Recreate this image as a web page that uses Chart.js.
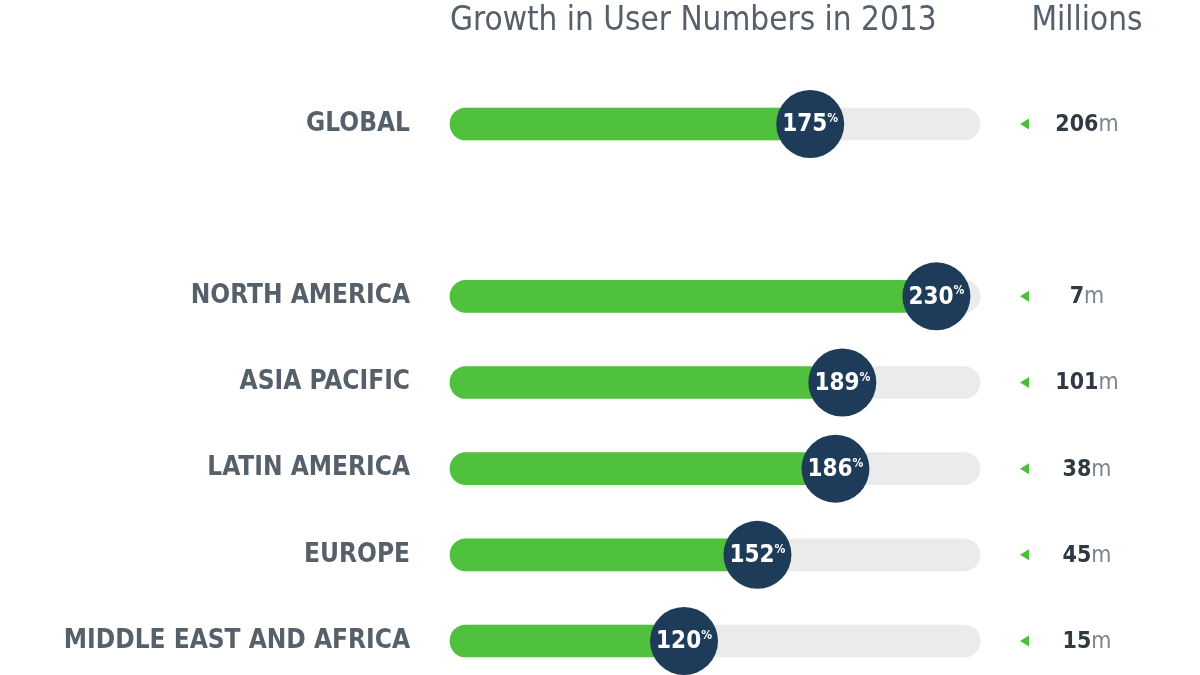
<!DOCTYPE html>
<html>
<head>
<meta charset="utf-8">
<script src="https://cdn.jsdelivr.net/npm/chart.js@4/dist/chart.umd.min.js"></script>
<style>
html, body { margin: 0; padding: 0; background: #fff; }
#wrap { width: 1200px; height: 675px; position: relative; }
</style>
</head>
<body>
<div id="wrap"><canvas id="myChart" width="1200" height="675"></canvas></div>
<script>
// rows (the empty one is the gap under GLOBAL)
const regions = ['GLOBAL', '', 'NORTH AMERICA', 'ASIA PACIFIC', 'LATIN AMERICA', 'EUROPE', 'MIDDLE EAST AND AFRICA'];
const growth = [175, null, 230, 189, 186, 152, 120];
const users = [206, null, 7, 101, 38, 45, 15];
const scaleMin = 18;
const scaleMax = 249;
const chartTitle = 'Growth in User Numbers in 2013';
const usersTitle = 'Millions';

const FONT = '"DejaVu Sans Condensed", "Liberation Sans Narrow", "Open Sans", sans-serif';

const track = regions.map(r => r ? scaleMax : null);
const dots = growth.map((g, i) => g == null ? null : {x: g, y: regions[i]}).filter(d => d);

const labelPlugin = {
    id: 'labels',
    afterDatasetsDraw(chart) {
        let ctx = chart.ctx;
        let meta = chart.getDatasetMeta(2);
        ctx.save();
        ctx.textBaseline = 'middle';

        ctx.fillStyle = '#56606a';
        ctx.font = '33px ' + FONT;
        ctx.textAlign = 'left';
        ctx.fillText(chartTitle, chart.chartArea.left, 21);
        ctx.textAlign = 'center';
        ctx.fillText(usersTitle, 1087, 21);

        let k = 0;
        for (let i = 0; i < regions.length; i++) {
            if (growth[i] == null) continue;
            let pt = meta.data[k++];
            if (!pt) continue;
            // value inside the circle
            let num = String(growth[i]);
            ctx.font = 'bold 24px ' + FONT;
            let w1 = ctx.measureText(num).width;
            ctx.font = 'bold 12px ' + FONT;
            let w2 = ctx.measureText('%').width;
            let sx = pt.x - (w1 + w2) / 2;
            ctx.textAlign = 'left';
            ctx.fillStyle = '#ffffff';
            ctx.font = 'bold 24px ' + FONT;
            ctx.fillText(num, sx, pt.y + 1);
            ctx.font = 'bold 12px ' + FONT;
            ctx.fillText('%', sx + w1, pt.y - 5);

            // little green arrow
            let ax = 1020;
            ctx.fillStyle = '#4cbf3a';
            ctx.beginPath();
            ctx.moveTo(ax, pt.y);
            ctx.lineTo(ax + 9, pt.y - 5.5);
            ctx.lineTo(ax + 9, pt.y + 5.5);
            ctx.closePath();
            ctx.fill();

            // users in millions
            let u = String(users[i]);
            ctx.font = 'bold 23px ' + FONT;
            let u1 = ctx.measureText(u).width;
            ctx.font = '23px ' + FONT;
            let u2 = ctx.measureText('m').width;
            let ux = 1087 - (u1 + u2) / 2;
            ctx.fillStyle = '#2f3a44';
            ctx.font = 'bold 23px ' + FONT;
            ctx.fillText(u, ux, pt.y + 1);
            ctx.fillStyle = '#7c858d';
            ctx.font = '23px ' + FONT;
            ctx.fillText('m', ux + u1, pt.y + 1);
        }
        ctx.restore();
    }
};

new Chart('myChart', {
    type: 'bar',
    data: {
        labels: regions,
        datasets: [{
            data: track,
            base: scaleMin,
            backgroundColor: '#ebebeb',
            borderRadius: 16,
            borderSkipped: false,
            barThickness: 32,
            grouped: false,
            order: 3,
            clip: false
        }, {
            data: growth,
            base: scaleMin,
            backgroundColor: '#50c13d',
            borderRadius: 16,
            borderSkipped: false,
            barThickness: 32,
            grouped: false,
            order: 2,
            clip: false
        }, {
            type: 'scatter',
            indexAxis: 'x',
            data: dots,
            pointRadius: 34,
            pointHoverRadius: 34,
            pointBackgroundColor: '#1e3c59',
            pointBorderWidth: 0,
            order: 1,
            clip: false
        }]
    },
    options: {
        indexAxis: 'y',
        responsive: false,
        animation: false,
        layout: {autoPadding: false, padding: {top: 124, bottom: 34, right: 220, left: 0}},
        plugins: {
            legend: {display: false},
            tooltip: {enabled: false}
        },
        scales: {
            x: {
                type: 'linear',
                display: false,
                min: scaleMin,
                max: scaleMax
            },
            y: {
                type: 'category',
                offset: false,
                grid: {display: false, drawTicks: false},
                border: {display: false},
                ticks: {
                    padding: 40,
                    color: '#56606a',
                    font: {family: FONT, size: 26, weight: 'bold'}
                },
                afterFit(scale) {
                    scale.width = 450;
                    scale.paddingTop = 0;
                    scale.paddingBottom = 0;
                }
            }
        }
    },
    plugins: [labelPlugin]
});
</script>
</body>
</html>
